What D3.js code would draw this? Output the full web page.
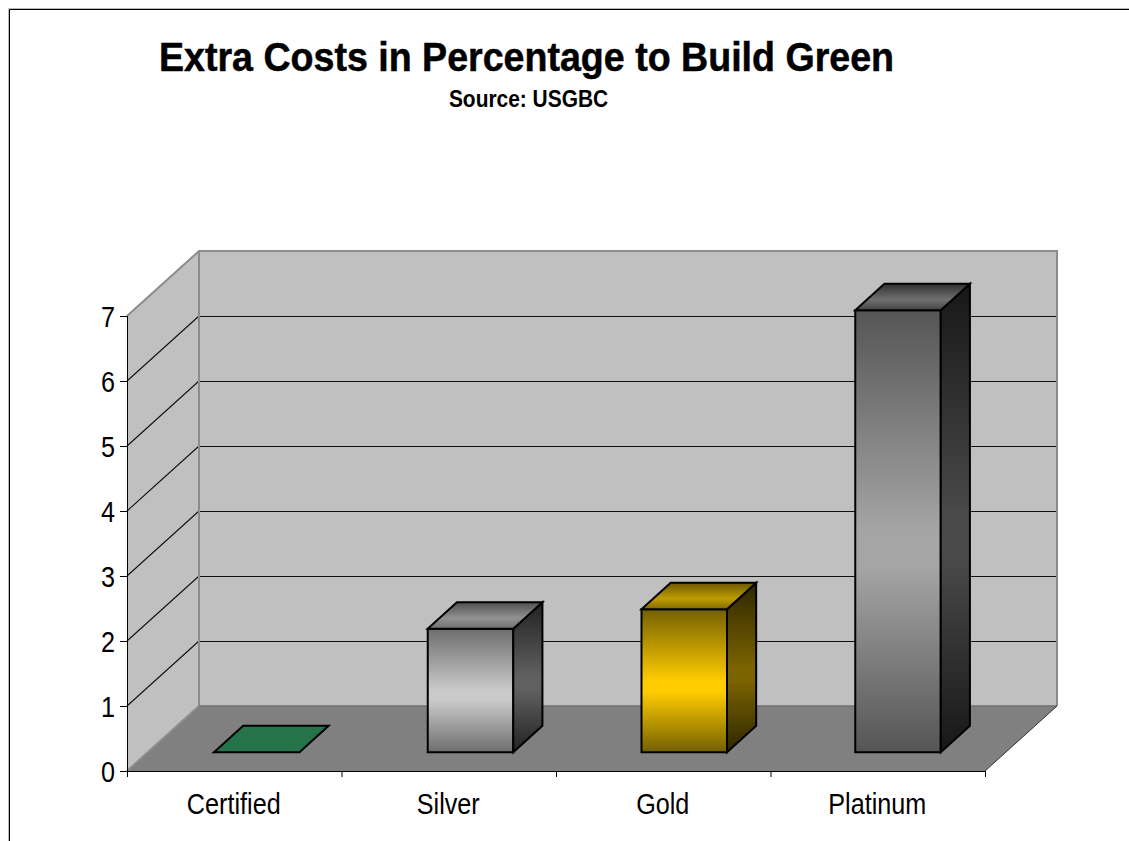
<!DOCTYPE html>
<html><head><meta charset="utf-8">
<script src="https://cdn.jsdelivr.net/npm/d3@7"></script>
<style>html,body{margin:0;padding:0;background:#fff}svg{display:block}text{font-family:"Liberation Sans",Arial,sans-serif;fill:#000}</style>
</head><body>
<script>
const categories = ["Certified","Silver","Gold","Platinum"];
const values = [0,1.9,2.2,6.8];
const yTicks = [0,1,2,3,4,5,6,7];
const titleText = "Extra Costs in Percentage to Build Green";
const subtitleText = "Source: USGBC";
const palettes = [
  {front:["#267349","#267349","#267349","#267349"],side:["#267349","#267349","#267349","#267349"],top:["#267349","#267349","#267349"]},
  {front:["#6e6e6e","#cacaca","#cacaca","#6e6e6e"],side:["#222222","#606060","#606060","#222222"],top:["#505050","#929292","#707070"]},
  {front:["#736000","#ffcc00","#ffcc00","#736000"],side:["#2e2600","#7a6300","#7a6300","#2e2600"],top:["#6a5800","#c09c00","#806a00"]},
  {front:["#555555","#a5a5a5","#a5a5a5","#555555"],side:["#171717","#4a4a4a","#4a4a4a","#171717"],top:["#303030","#707070","#444444"]}
];
const W=1129,H=841;
const svg=d3.select("body").append("svg").attr("width",W).attr("height",H);
const defs=svg.append("defs");
function grad(id,c){
  const offs=c.length===4?[0,0.5,0.58,1]:[0,0.6,1];
  const g=defs.append("linearGradient").attr("id",id).attr("x1",0).attr("y1",0).attr("x2",0).attr("y2",1);
  c.forEach((col,i)=>g.append("stop").attr("offset",offs[i]).attr("stop-color",col));
}
palettes.forEach((p,i)=>{grad("f"+i,p.front);grad("s"+i,p.side);grad("t"+i,p.top);});

// page frame
svg.append("path").attr("d","M9.5,841V9.5H1129").attr("fill","none").attr("stroke","#000").attr("stroke-width",1);
svg.append("path").attr("d","M8.5,841V8.5H1129").attr("fill","none").attr("stroke","#bbb").attr("stroke-width",1);

function condensed(sel,sx){
  sel.attr("transform",function(){return `translate(${+this.getAttribute("data-x")},${+this.getAttribute("data-y")}) scale(${sx},1)`;});
}
svg.append("text").attr("data-x",526.5).attr("data-y",71).attr("text-anchor","middle").attr("font-size",40).attr("font-weight","bold").attr("stroke","#000").attr("stroke-width",0.5).text(titleText).call(condensed,0.94);
svg.append("text").attr("data-x",528.5).attr("data-y",107).attr("text-anchor","middle").attr("font-size",23).attr("font-weight","bold").text(subtitleText).call(condensed,0.91);

// scales
const y=d3.scaleLinear().domain([0,7]).range([771,316]);
const xAxisScale=d3.scaleLinear().domain([0,4]).range([127,985]);
const x=d3.scaleBand().domain(categories).range([129,984]).paddingInner(0.6).paddingOuter(0.3);
const depth=d3.scaleLinear().domain([0,1]).range([0,72]);
const depthY=d3.scaleLinear().domain([0,1]).range([0,65]);
const P=(px,v,d)=>[px+depth(d),y(v)-depthY(d)];
const poly=pts=>"M"+pts.map(p=>p.join(",")).join("L")+"Z";
const leftX=xAxisScale(0), rightX=xAxisScale(4), topV=yTicks[yTicks.length-1];

// walls and floor
svg.append("path").attr("d",poly([P(leftX,0,0),P(leftX,0,1),P(leftX,topV,1),P(leftX,topV,0)])).attr("fill","#c0c0c0");
svg.append("path").attr("d",poly([P(leftX,0,1),P(rightX,0,1),P(rightX,topV,1),P(leftX,topV,1)])).attr("fill","#c0c0c0");
svg.append("path").attr("d",poly([P(leftX,0,0),P(rightX,0,0),P(rightX,0,1),P(leftX,0,1)])).attr("fill","#808080");

// gridlines
const lineGen=d3.line();
const grid=svg.append("g").attr("fill","none").attr("stroke","#111");
grid.selectAll("path.diag").data(yTicks.slice(1,-1)).join("path").attr("class","diag")
  .attr("d",v=>lineGen([P(leftX,v,0),P(leftX,v,1)])).attr("stroke-width",1.1);
grid.selectAll("path.back").data(yTicks.slice(1,-1)).join("path").attr("class","back")
  .attr("d",v=>lineGen([P(leftX,v,1),P(rightX,v,1)])).attr("stroke-width",1).attr("shape-rendering","crispEdges");

// wall outlines
const edge=(a,col,w)=>svg.append("path").attr("d",lineGen(a)).attr("fill","none").attr("stroke",col).attr("stroke-width",w);
edge([P(leftX,topV,0),P(leftX,topV,1),P(rightX,topV,1),P(rightX,0,1)],"#8c8c8c",2);
edge([P(leftX,0,0),P(leftX,0,1),P(leftX,topV,1)],"#8c8c8c",2);
edge([P(leftX,0,1),P(rightX,0,1)],"#707070",1.5);
edge([P(rightX,0,1),P(rightX,0,0)],"#333",1);

// bars
const d0=0.29,d1=0.695;
const bars=svg.append("g").selectAll("g").data(categories).join("g");
bars.each(function(c,i){
  const g=d3.select(this),v=values[i],a=x(c),b=a+x.bandwidth();
  const st=s=>s.attr("stroke","#000").attr("stroke-width",2).attr("stroke-linejoin","miter");
  if(v>0){
    g.append("path").attr("d",poly([P(a,0,d0),P(b,0,d0),P(b,v,d0),P(a,v,d0)])).attr("fill",`url(#f${i})`).call(st);
    g.append("path").attr("d",poly([P(b,0,d0),P(b,0,d1),P(b,v,d1),P(b,v,d0)])).attr("fill",`url(#s${i})`).call(st);
  }
  g.append("path").attr("d",poly([P(a,v,d0),P(b,v,d0),P(b,v,d1),P(a,v,d1)])).attr("fill",`url(#t${i})`).call(st);
});

// axes
const axY=d3.axisLeft(y).tickValues(yTicks).tickSize(7).tickPadding(6);
const gy=svg.append("g").attr("transform",`translate(${leftX},0)`).call(axY);
gy.selectAll("text").remove();
gy.selectAll("path,line").attr("stroke","#000").attr("stroke-width",1);
gy.select("path").attr("d",`M0.5,${y(topV)}V${y(0)+6}`);
svg.append("g").selectAll("text").data(yTicks).join("text")
  .attr("data-x",115).attr("data-y",v=>y(v)+10.5).attr("text-anchor","end").attr("font-size",30).text(v=>v).call(condensed,0.84);

const axX=d3.axisBottom(xAxisScale).tickValues(d3.range(0,5)).tickSize(6).tickFormat("");
const gx=svg.append("g").attr("transform",`translate(0,${y(0)})`).call(axX);
gx.selectAll("path,line").attr("stroke","#000").attr("stroke-width",1);
gx.select("path").attr("d",`M${leftX},0.5H${rightX}`);
svg.append("g").selectAll("text").data(categories).join("text")
  .attr("data-x",(c,i)=>(xAxisScale(i)+xAxisScale(i+1))/2-0.5).attr("data-y",814).attr("text-anchor","middle").attr("font-size",30).text(c=>c).call(condensed,0.84);
</script>
</body></html>
